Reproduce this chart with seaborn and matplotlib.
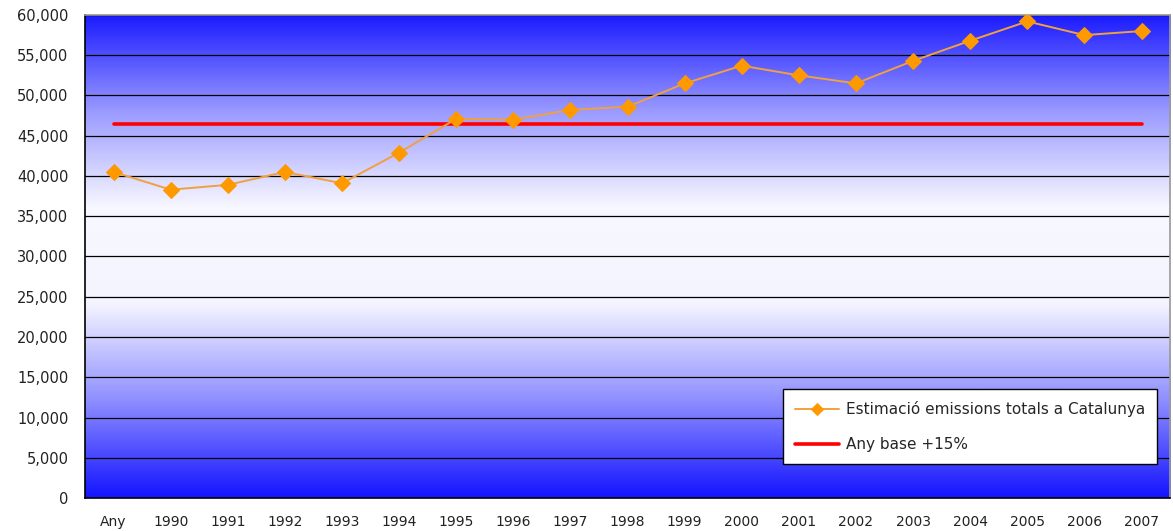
import numpy as np
import matplotlib
matplotlib.use('Agg')
import matplotlib.pyplot as plt
import seaborn as sns
from matplotlib.colors import LinearSegmentedColormap
from matplotlib.ticker import FuncFormatter, MultipleLocator

# Data
years = ['Any', '1990', '1991', '1992', '1993', '1994', '1995', '1996', '1997',
         '1998', '1999', '2000', '2001', '2002', '2003', '2004', '2005', '2006', '2007']
emissions = [40500, 38300, 38900, 40500, 39100, 42900, 47100, 47000, 48200,
             48600, 51500, 53700, 52500, 51500, 54300, 56800, 59200, 57500, 58000]
base_plus_15 = 46500

LABEL_LINE = 'Estimació emissions totals a Catalunya'
LABEL_BASE = 'Any base +15%'

sns.set_style('white')
plt.rcParams['font.family'] = ['DejaVu Sans']

fig = plt.figure(figsize=(11.73, 5.31), dpi=100)
ax = fig.add_axes([0.0725, 0.0621, 0.925, 0.9097])

# gradient background: blue at top and bottom, white in the middle
grad_cmap = LinearSegmentedColormap.from_list(
    'bg', ['#1414ff', '#8e8eff', '#f4f4ff', '#f8f8ff', '#9a9aff', '#1a1aff'])
grad = np.linspace(1, 0, 256).reshape(-1, 1)
ax.imshow(grad, cmap=grad_cmap, aspect='auto', extent=[-0.5, 18.5, 0, 60000],
          zorder=0, interpolation='bicubic')

ax.set_ylim(0, 60000)
ax.set_xlim(-0.5, 18.5)
ax.yaxis.set_major_locator(MultipleLocator(5000))
ax.yaxis.set_major_formatter(FuncFormatter(lambda v, p: f'{int(v):,}'))
for yv in range(5000, 60001, 5000):
    ax.axhline(yv, color='black', lw=0.9, zorder=1)

x = np.arange(len(years))
sns.lineplot(x=x, y=emissions, ax=ax, color='#f0a040', lw=1.4, marker='D',
             markersize=8, markerfacecolor='#ff9900', markeredgecolor='#ff9900',
             label=LABEL_LINE, zorder=4)
sns.lineplot(x=x, y=[base_plus_15] * len(years), ax=ax, color='#ff0000', lw=2.6,
             label=LABEL_BASE, zorder=3)

# categorical axis, ticks on category boundaries, labels centered
ax.set_xticks(np.arange(-0.5, 18.6, 1.0))
ax.set_xticklabels([])
ax.set_xticks(x, minor=True)
ax.set_xticklabels(years, minor=True)
ax.tick_params(axis='x', which='major', length=6, width=1, color='black', direction='out')
ax.tick_params(axis='x', which='minor', length=0, pad=12, labelsize=10, labelcolor='#222222')
ax.tick_params(axis='y', length=6, width=1, color='black', direction='out',
               labelsize=10.5, labelcolor='#222222', pad=6)

for side in ['left', 'bottom']:
    ax.spines[side].set_color('black')
    ax.spines[side].set_linewidth(1.2)
for side in ['top', 'right']:
    ax.spines[side].set_color('#999999')
    ax.spines[side].set_linewidth(1.2)

leg = ax.legend(loc='lower right', bbox_to_anchor=(0.988, 0.07), borderaxespad=0,
                fontsize=11, frameon=True, fancybox=False, framealpha=1,
                edgecolor='black', borderpad=0.8, labelspacing=1.3,
                handlelength=2.9, handletextpad=0.4)
leg.get_frame().set_linewidth(1.0)
leg.legend_handles[0].set_markersize(6)

ax.set_xlabel('')
ax.set_ylabel('')
fig.savefig('out.png', dpi=100)
